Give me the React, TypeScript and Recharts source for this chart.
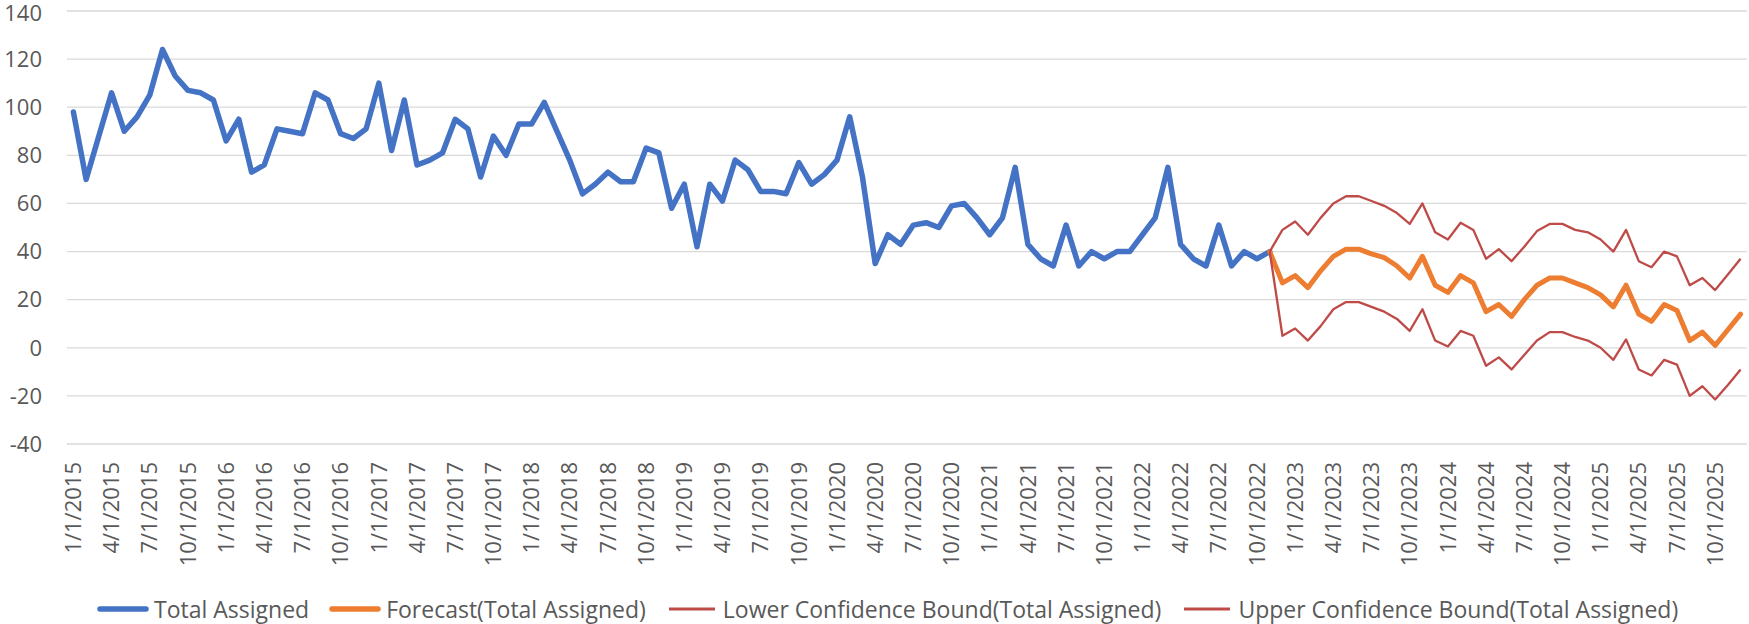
import { LineChart, Line, XAxis, YAxis, CartesianGrid, Legend } from "recharts"

const FONT = "'Open Sans', 'Noto Sans', sans-serif"
const TEXT = "#595959"
const BLUE = "#4472C4"
const ORANGE = "#ED7D31"
const RED = "#BE4B48"

// monthly, 1/1/2015 .. 12/1/2025
const FIRST_YEAR = 2015
const MONTH_COUNT = 132

// Total Assigned, 1/1/2015 .. 11/1/2022
const ACTUAL = [
  98, 70, 88, 106, 90, 96, 105, 124, 113, 107, 106, 103,
  86, 95, 73, 76, 91, 90, 89, 106, 103, 89, 87, 91,
  110, 82, 103, 76, 78, 81, 95, 91, 71, 88, 80, 93,
  93, 102, 90, 78, 64, 68, 73, 69, 69, 83, 81, 58,
  68, 42, 68, 61, 78, 74, 65, 65, 64, 77, 68, 72,
  78, 96, 71, 35, 47, 43, 51, 52, 50, 59, 60, 54,
  47, 54, 75, 43, 37, 34, 51, 34, 40, 37, 40, 40,
  47, 54, 75, 43, 37, 34, 51, 34, 40, 37, 40,
]

// forecast series, 11/1/2022 .. 12/1/2025
const FORECAST = [
  40, 27, 30, 25, 32, 38, 41, 41, 39, 37.5, 34, 29, 38,
  26, 23, 30, 27, 15, 18, 13, 20, 26, 29, 29, 27, 25,
  22, 17, 26, 14, 11, 18, 15.5, 3, 6.5, 1, 7.5, 14,
]
const LOWER = [
  40, 5, 8, 3, 9, 16, 19, 19, 17, 15, 12, 7, 16,
  3, 0.5, 7, 5, -7.5, -4, -9, -3, 3, 6.5, 6.5, 4.5, 3,
  0, -5, 3.5, -9, -11.5, -5, -7, -20, -16, -21.5, -15.5, -9,
]
const UPPER = [
  40, 49, 52.5, 47, 54, 60, 63, 63, 61, 59, 56, 51.5, 60,
  48, 45, 52, 49, 37, 41, 36, 42, 48.5, 51.5, 51.5, 49, 48,
  45, 40, 49, 36, 33.5, 40, 38, 26, 29, 24, 30.5, 37,
]

const Y_TICKS = [-40, -20, 0, 20, 40, 60, 80, 100, 120, 140]

const LEGEND_ITEMS = [
  { label: "Total Assigned", color: BLUE, width: 5.5, cap: "round" },
  { label: "Forecast(Total Assigned)", color: ORANGE, width: 5.5, cap: "round" },
  { label: "Lower Confidence Bound(Total Assigned)", color: RED, width: 3, cap: "butt" },
  { label: "Upper Confidence Bound(Total Assigned)", color: RED, width: 3, cap: "butt" },
]

const months = Array.from(
  { length: MONTH_COUNT },
  (_, i) => `${(i % 12) + 1}/1/${FIRST_YEAR + Math.floor(i / 12)}`
)
const forecastStart = ACTUAL.length - 1

const data = months.map((month, i) => {
  const f = i - forecastStart
  return {
    month,
    total: i < ACTUAL.length ? ACTUAL[i] : null,
    forecast: f >= 0 ? FORECAST[f] : null,
    lower: f >= 0 ? LOWER[f] : null,
    upper: f >= 0 ? UPPER[f] : null,
  }
})

function MonthTick({ x, y, payload }: any) {
  return (
    <text
      x={x}
      y={y}
      dy="0.35em"
      transform={`rotate(-90, ${x}, ${y})`}
      textAnchor="end"
      fill={TEXT}
      fontSize={22}
      fontFamily={FONT}
    >
      {payload.value}
    </text>
  )
}

function LegendContent() {
  return (
    <div style={{ display: "flex", alignItems: "center", gap: 20, height: 30, fontFamily: FONT, fontSize: 23, color: TEXT }}>
      {LEGEND_ITEMS.map((item) => (
        <div key={item.label} style={{ display: "flex", alignItems: "center", gap: 5 }}>
          <svg width={52} height={10}>
            <line x1={3} y1={5} x2={49} y2={5} stroke={item.color} strokeWidth={item.width} strokeLinecap={item.cap as any} />
          </svg>
          <span style={{ whiteSpace: "nowrap" }}>{item.label}</span>
        </div>
      ))}
    </div>
  )
}

export default function App() {
  return (
    <div style={{ position: "absolute", left: 0, top: 0, width: 1749, height: 624, background: "#fff" }}>
      <LineChart width={1749} height={624} data={data} margin={{ top: 11, right: 2, left: 0, bottom: 0 }}>
        <CartesianGrid vertical={false} stroke="#D9D9D9" strokeWidth={1.3} />
        <XAxis
          dataKey="month"
          interval={2}
          height={150}
          axisLine={false}
          tickLine={false}
          tickMargin={12}
          padding={{ left: 6.4, right: 6.4 }}
          tick={<MonthTick />}
        />
        <YAxis
          width={67}
          domain={[-40, 140]}
          ticks={Y_TICKS}
          axisLine={false}
          tickLine={false}
          tickMargin={19}
          tick={{ fill: TEXT, fontSize: 22, fontFamily: FONT }}
        />
        <Legend
          verticalAlign="bottom"
          content={<LegendContent />}
          wrapperStyle={{ left: 97, bottom: 0, height: 30, width: 1640 }}
        />
        <Line type="linear" dataKey="total" stroke={BLUE} strokeWidth={5.5} dot={false} strokeLinejoin="round" strokeLinecap="round" isAnimationActive={false} />
        <Line type="linear" dataKey="forecast" stroke={ORANGE} strokeWidth={5} dot={false} strokeLinejoin="round" strokeLinecap="round" isAnimationActive={false} />
        <Line type="linear" dataKey="lower" stroke={RED} strokeWidth={2.3} dot={false} strokeLinejoin="round" isAnimationActive={false} />
        <Line type="linear" dataKey="upper" stroke={RED} strokeWidth={2.3} dot={false} strokeLinejoin="round" isAnimationActive={false} />
      </LineChart>
    </div>
  )
}
